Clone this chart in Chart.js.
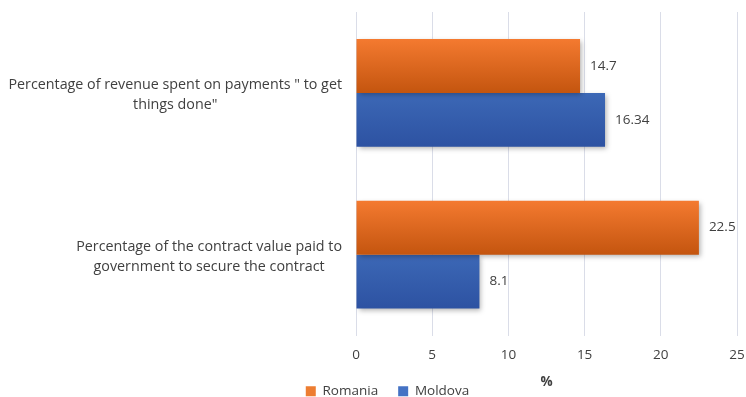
<!DOCTYPE html>
<html>
<head>
<meta charset="utf-8">
<script src="https://cdn.jsdelivr.net/npm/chart.js@4.4.1/dist/chart.umd.min.js"></script>
<style>
  html, body { margin: 0; padding: 0; background: #fff; }
  #wrap { width: 746px; height: 397px; }
</style>
</head>
<body>
<div id="wrap"><canvas id="chart"></canvas></div>
<script>
// categories, top to bottom
const categories = [
  ['Percentage of revenue spent on payments " to get', 'things done"'],
  ['Percentage of the contract value paid to', 'government to secure the contract'],
];
const seriesNames = ['Romania', 'Moldova'];
const romania = [14.7, 22.5];
const moldova = [16.34, 8.1];
const xTicks = { min: 0, max: 25, step: 5 };

const FONT = '"Open Sans", sans-serif';
const SIZE = 13.5;
const CAT_SIZE = 14.3;
const TEXT = '#404040';
const CAT_PCT = 0.667;

// vertical gradient for each bar, from the category band it sits in
function barFill(top, bottom) {
  return (c) => {
    const { chart, dataIndex, datasetIndex } = c;
    const y = chart.scales.y;
    if (!y || c.type !== 'data') return bottom;
    const band = (y.bottom - y.top) / chart.data.labels.length;
    const h = (band * CAT_PCT) / chart.data.datasets.length;
    const y0 = y.getPixelForValue(dataIndex) - (band * CAT_PCT) / 2 + datasetIndex * h;
    const g = chart.ctx.createLinearGradient(0, y0, 0, y0 + h);
    g.addColorStop(0, top);
    g.addColorStop(1, bottom);
    return g;
  };
}

// soft drop shadow under the bars
const barShadow = {
  id: 'barShadow',
  beforeDatasetDraw(chart) {
    const ctx = chart.ctx;
    ctx.save();
    ctx.shadowColor = 'rgba(0,0,0,0.3)';
    ctx.shadowBlur = 5;
    ctx.shadowOffsetX = 2;
    ctx.shadowOffsetY = 2;
  },
  afterDatasetDraw(chart) {
    chart.ctx.restore();
  },
};

// value printed just past the end of each bar
const valueLabels = {
  id: 'valueLabels',
  afterDatasetsDraw(chart) {
    const ctx = chart.ctx;
    ctx.save();
    ctx.font = SIZE + 'px ' + FONT;
    ctx.fillStyle = TEXT;
    ctx.textAlign = 'left';
    ctx.textBaseline = 'middle';
    chart.data.datasets.forEach((ds, di) => {
      chart.getDatasetMeta(di).data.forEach((el, i) => {
        ctx.fillText(String(ds.data[i]), el.x + 10, el.y);
      });
    });
    ctx.restore();
  },
};

// category names: block right-aligned to the axis, lines centred in the block
const categoryLabels = {
  id: 'categoryLabels',
  afterDraw(chart) {
    const { ctx } = chart;
    const y = chart.scales.y;
    ctx.save();
    ctx.font = CAT_SIZE + 'px ' + FONT;
    ctx.fillStyle = TEXT;
    ctx.textAlign = 'center';
    ctx.textBaseline = 'middle';
    chart.data.labels.forEach((lines, i) => {
      const widest = Math.max(...lines.map((l) => ctx.measureText(l).width));
      const cx = y.right - 14 - widest / 2;
      const cy = y.getPixelForValue(i) + 2;
      lines.forEach((l, k) => {
        ctx.fillText(l, cx, cy + (k - (lines.length - 1) / 2) * 20);
      });
    });
    ctx.restore();
  },
};

const legendColors = ['#ED7D31', '#4472C4'];

new Chart(document.getElementById('chart'), {
  type: 'bar',
  data: {
    labels: categories,
    datasets: [
      {
        label: seriesNames[0],
        data: romania,
        backgroundColor: barFill('#F47A30', '#C4550F'),
      },
      {
        label: seriesNames[1],
        data: moldova,
        backgroundColor: barFill('#3C68B6', '#2D52A2'),
      },
    ],
  },
  options: {
    indexAxis: 'y',
    responsive: true,
    maintainAspectRatio: false,
    animation: false,
    categoryPercentage: CAT_PCT,
    barPercentage: 1,
    layout: { padding: { top: 12, right: 0, bottom: -11, left: 29 } },
    scales: {
      x: {
        min: xTicks.min,
        max: xTicks.max,
        ticks: {
          stepSize: xTicks.step,
          padding: 12,
          color: TEXT,
          font: { family: FONT, size: SIZE },
        },
        grid: { color: '#dadde8', lineWidth: 1, drawTicks: false },
        border: { display: false },
        title: {
          display: true,
          text: '%',
          color: TEXT,
          font: { family: FONT, size: SIZE, weight: 'bold' },
          padding: { top: 0, bottom: -26 },
        },
        afterFit(scale) {
          scale.height = 29;
          scale.paddingLeft = 0;
          scale.paddingRight = 9;
        },
      },
      y: {
        ticks: { display: false },
        grid: { display: false },
        border: { display: false },
        afterFit(scale) {
          scale.width = 327;
        },
      },
    },
    plugins: {
      tooltip: { enabled: false },
      legend: {
        position: 'bottom',
        labels: {
          boxWidth: 10,
          boxHeight: 10,
          padding: 20,
          color: TEXT,
          font: { family: FONT, size: SIZE },
          generateLabels: (chart) =>
            chart.data.datasets.map((ds, i) => ({
              text: ds.label,
              fillStyle: legendColors[i],
              strokeStyle: legendColors[i],
              lineWidth: 0,
              datasetIndex: i,
              fontColor: TEXT,
            })),
        },
      },
    },
  },
  plugins: [barShadow, valueLabels, categoryLabels],
});
</script>
</body>
</html>
